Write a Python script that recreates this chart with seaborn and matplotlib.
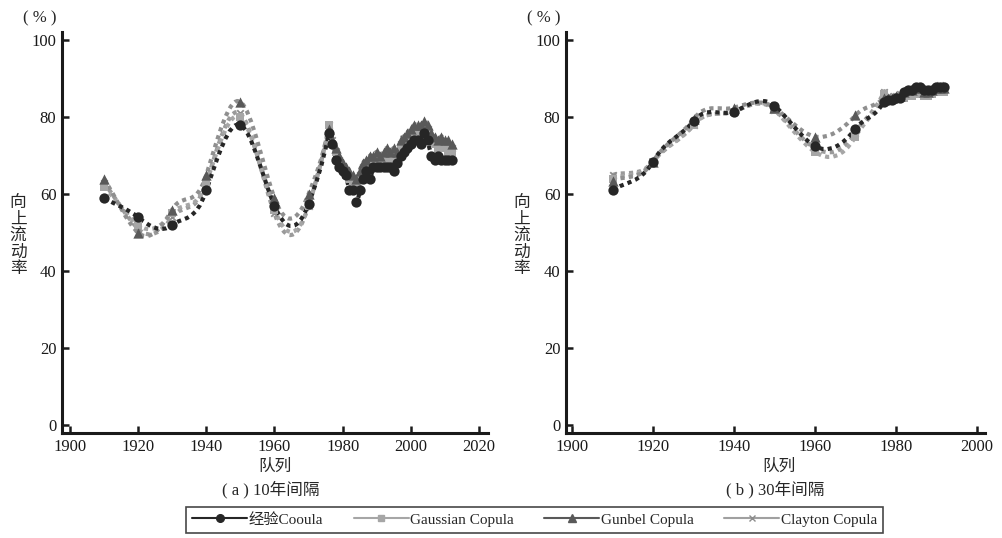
import numpy as np
import matplotlib
matplotlib.use("Agg")
import matplotlib.pyplot as plt
from matplotlib.path import Path
from matplotlib.patches import PathPatch
from matplotlib.lines import Line2D
import seaborn as sns

# ---- data ----
years_a = [1910, 1920, 1930, 1940, 1950, 1960, 1970,
           1976, 1977, 1978, 1979, 1980, 1981, 1982, 1983, 1984, 1985,
           1986, 1987, 1988, 1989, 1990, 1991, 1992, 1993, 1994, 1995,
           1996, 1997, 1998, 1999, 2000, 2001, 2002, 2003, 2004, 2005,
           2006, 2007, 2008, 2009, 2010, 2011, 2012]
emp_a = [59, 54, 52, 61, 78, 57, 57.5,
         76, 73, 69, 67, 66, 65, 61, 61, 58, 61,
         64, 66, 64, 67, 67, 67, 67, 67, 67, 66,
         68, 70, 71, 72, 73, 74, 74, 73, 76, 74,
         70, 69, 70, 69, 69, 69, 69]
gauss_a = [62, 52, 55, 63, 80, 56, 57,
           78, 73, 71, 68, 67, 65, 64, 63, 62, 64,
           66, 67, 68, 68, 69, 69, 69, 69, 69, 70,
           70, 72, 73, 74, 75, 76, 76, 76, 77, 76,
           74, 73, 72, 72, 72, 71, 71]
gumbel_a = [64, 50, 56, 65, 84, 59, 60,
            77, 74, 72, 70, 68, 67, 66, 65, 64, 66,
            68, 69, 70, 70, 71, 70, 71, 72, 71, 72,
            71, 74, 75, 76, 77, 78, 78, 78, 79, 78,
            76, 75, 74, 75, 74, 74, 73]
clayton_a = [63, 51, 54, 63, 81, 55, 57,
             78, 74, 71, 69, 67, 66, 64, 63, 63, 65,
             67, 68, 69, 69, 70, 70, 70, 70, 70, 70,
             71, 73, 74, 75, 76, 77, 77, 77, 78, 77,
             75, 74, 73, 73, 73, 72, 72]

years_b = [1910, 1920, 1930, 1940, 1950, 1960, 1970,
           1977, 1978, 1979, 1980, 1981, 1982, 1983, 1984,
           1985, 1986, 1987, 1988, 1989, 1990, 1991, 1992]
emp_b = [61, 68.5, 79, 81.5, 83, 72.5, 77,
         84, 84.5, 84.5, 85, 85, 86.5, 87, 87,
         88, 88, 87, 87, 87, 88, 88, 88]
gauss_b = [64, 68.5, 78, 81.5, 82, 71, 75,
           86, 84.5, 84.5, 85, 85, 85, 85.5, 85.5,
           86, 86, 85.5, 85.5, 86, 86.5, 86.5, 86.5]
gumbel_b = [63.5, 68.5, 79.5, 82.5, 82.5, 75, 80.5,
            85, 85, 85, 85.5, 85.5, 86.5, 87, 87,
            87.5, 87.5, 86.5, 86.5, 87, 87.5, 87.5, 87.5]
clayton_b = [65, 68.5, 78, 81.5, 82, 72, 76,
             86.5, 85.5, 85, 85.5, 86, 86, 86, 86,
             86.5, 86.5, 86.5, 86.5, 86.5, 87, 88.5, 87]

labels = ["经验Cooula", "Gaussian Copula", "Gunbel Copula", "Clayton Copula"]
y_ticks = [0, 20, 40, 60, 80, 100]

# style per series: marker, marker colour, line colour, marker size
styles = {
    "经验Cooula":      ("o", "#262626", "#262626", 55),
    "Gaussian Copula": ("s", "#a6a6a6", "#a6a6a6", 28),
    "Gunbel Copula":   ("^", "#595959", "#8f8f8f", 55),
    "Clayton Copula":  ("x", "#8c8c8c", "#9a9a9a", 22),
}

sns.set_theme(style="ticks")
plt.rcParams["font.family"] = ["Liberation Serif", "Noto Sans CJK SC", "DejaVu Sans"]


def smooth_path(x, y, k=2.0):
    # smoothed connector like a spreadsheet "smooth line"
    x = np.asarray(x, float)
    y = np.asarray(y, float)
    m = np.empty(len(x))
    m[1:-1] = (y[2:] - y[:-2]) / (x[2:] - x[:-2])
    m[0] = (y[1] - y[0]) / (x[1] - x[0]) / k
    m[-1] = (y[-1] - y[-2]) / (x[-1] - x[-2]) / k
    verts = [(x[0], y[0])]
    codes = [Path.MOVETO]
    for i in range(len(x) - 1):
        h = x[i + 1] - x[i]
        verts += [(x[i] + h / 3, y[i] + k * m[i] * h / 3),
                  (x[i + 1] - h / 3, y[i + 1] - k * m[i + 1] * h / 3),
                  (x[i + 1], y[i + 1])]
        codes += [Path.CURVE4] * 3
    return Path(verts, codes)


fig = plt.figure(figsize=(10.03, 5.38), dpi=100)
ax_a = fig.add_axes([0.0618, 0.1952, 0.4247, 0.7454])
ax_b = fig.add_axes([0.5643, 0.1952, 0.4177, 0.7454])

panels = [
    (ax_a, years_a, [emp_a, gauss_a, gumbel_a, clayton_a], (1897.65, 2022.65),
     [1900, 1920, 1940, 1960, 1980, 2000, 2020], "( a ) 10年间隔", 0.274, 0.018),
    (ax_b, years_b, [emp_b, gauss_b, gumbel_b, clayton_b], (1898.5, 2002),
     [1900, 1920, 1940, 1960, 1980, 2000], "( b ) 30年间隔", 0.777, 0.520),
]

for ax, yrs, series, xlim, xticks, caption, cx, ylx in panels:
    vals = dict(zip(labels, series))
    order = ["Clayton Copula", "Gaussian Copula", "Gunbel Copula", "经验Cooula"]
    for z, name in enumerate(order):
        mk, mcol, lcol, ms = styles[name]
        patch = PathPatch(smooth_path(yrs, vals[name]), fill=False,
                          edgecolor=lcol, linewidth=3.0,
                          linestyle=(0, (1, 1)), capstyle="butt", zorder=2 + z)
        ax.add_patch(patch)
    for z, name in enumerate(order):
        mk, mcol, lcol, ms = styles[name]
        if mk == "x":
            sns.scatterplot(x=yrs, y=vals[name], marker=mk, color=mcol, s=ms,
                            linewidth=1.3, ax=ax, zorder=10 + z)
        else:
            sns.scatterplot(x=yrs, y=vals[name], marker=mk, color=mcol, s=ms,
                            linewidth=0, ax=ax, zorder=10 + z)

    ax.set_xlim(*xlim)
    ax.set_ylim(-2.1, 102.2)
    ax.set_xticks(xticks)
    ax.set_yticks(y_ticks)
    ax.tick_params(direction="in", length=5, width=1.8, labelsize=12,
                   colors="#1a1a1a", pad=4)
    sns.despine(ax=ax)
    for sp in ("left", "bottom"):
        ax.spines[sp].set_linewidth(2.2)
        ax.spines[sp].set_color("#1a1a1a")
    ax.set_xlabel("")
    ax.set_ylabel("")
    ax.grid(False)

    # axis texts
    fig.text(cx, 1 - 467 / 538, "队列", ha="center", va="center", fontsize=12)
    fig.text(cx - 0.004, 1 - 490 / 538, caption, ha="center", va="center", fontsize=12)
    fig.text(ylx + 0.022, 1 - 18 / 538, "( % )", ha="center", va="center", fontsize=12)
    fig.text(ylx, 1 - 236 / 538, "\n".join("向上流动率"), ha="center",
             va="center", fontsize=12, linespacing=1.05)

handles = []
for name in labels:
    mk, mcol, lcol, ms = styles[name]
    line_col = mcol if name != "Clayton Copula" else "#a0a0a0"
    handles.append(Line2D([], [], color=line_col, linewidth=1.5, marker=mk,
                          markersize=5.5 if mk in "o^" else 4.5,
                          markerfacecolor=mcol, markeredgecolor=mcol))
leg = fig.legend(handles, labels, loc="lower center", ncol=4,
                 bbox_to_anchor=(0.533, 0.004), frameon=True, fancybox=False,
                 fontsize=11, handlelength=3.6, columnspacing=2.0,
                 handletextpad=0.1, borderpad=0.4, borderaxespad=0.2)
leg.get_frame().set_edgecolor("#1a1a1a")
leg.get_frame().set_linewidth(1.2)

fig.savefig("out.png", dpi=100)
